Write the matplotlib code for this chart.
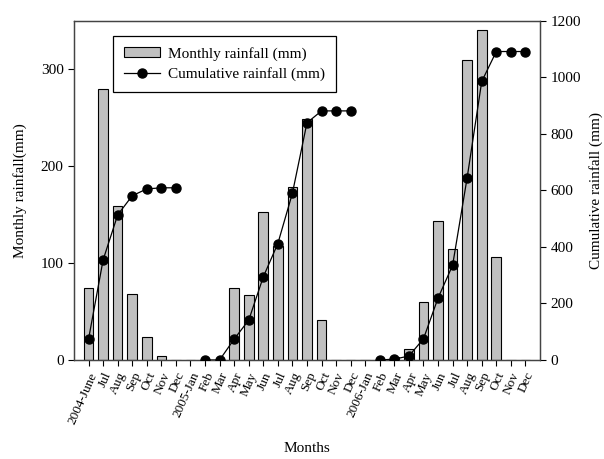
import numpy as np
import matplotlib.pyplot as plt

plt.rcParams['font.family'] = ['Liberation Serif', 'DejaVu Serif']

months = ['2004-June', 'Jul', 'Aug', 'Sep', 'Oct', 'Nov', 'Dec',
          '2005-Jan', 'Feb', 'Mar', 'Apr', 'May', 'Jun', 'Jul', 'Aug', 'Sep', 'Oct', 'Nov', 'Dec',
          '2006-Jan', 'Feb', 'Mar', 'Apr', 'May', 'Jun', 'Jul', 'Aug', 'Sep', 'Oct', 'Nov', 'Dec']

monthly = [74, 280, 159, 68, 24, 4, 0,
           0, 0, 0, 74, 67, 153, 118, 178, 249, 41, 0, 0,
           0, 0, 3, 11, 60, 143, 115, 309, 340, 106, 0, 0]

# cumulative totals per season, no point for January
cumulative = [74, 354, 513, 581, 605, 609, 609,
              np.nan, 0, 0, 74, 141, 294, 412, 590, 839, 881, 881, 881,
              np.nan, 0, 3, 14, 75, 219, 335, 645, 985, 1091, 1091, 1091]

x = np.arange(len(months))

fig = plt.figure(figsize=(6.04, 4.59), dpi=100)
ax = fig.add_axes([0.1225, 0.2157, 0.7715, 0.7392])
ax2 = ax.twinx()

bars = ax.bar(x, monthly, width=0.66, color='#c0c0c0', edgecolor='black', linewidth=0.8,
              label='Monthly rainfall (mm)', zorder=2)
line, = ax2.plot(x, cumulative, color='black', linewidth=0.9, marker='o', markersize=6.5,
                 label='Cumulative rainfall (mm)', zorder=3)

ax.set_xlim(-1, 31)
ax.set_ylim(0, 350)
ax2.set_ylim(0, 1200)
ax.set_yticks([0, 100, 200, 300])
ax2.set_yticks(range(0, 1201, 200))

ax.set_xticks(x)
ax.set_xticklabels(months, rotation=66, ha='right', rotation_mode='anchor', fontsize=9.5)

for a in (ax, ax2):
    a.tick_params(direction='out', length=4, width=0.8, colors='black')
    a.tick_params(axis='y', labelsize=11)
    for s in a.spines.values():
        s.set_color('#444444')
        s.set_linewidth(0.9)

ax.set_xlabel('Months', fontsize=11, labelpad=12)
ax.set_ylabel('Monthly rainfall(mm)', fontsize=11, labelpad=10)
ax2.set_ylabel('Cumulative rainfall (mm)', fontsize=11, labelpad=6)

ax2.set_zorder(ax.get_zorder() + 1)
ax2.patch.set_visible(False)

leg = ax2.legend([bars, line], ['Monthly rainfall (mm)', 'Cumulative rainfall (mm)'],
                 loc='upper left', bbox_to_anchor=(0.0837, 0.955), borderaxespad=0,
                 fontsize=11, fancybox=False, edgecolor='black', framealpha=1,
                 borderpad=0.7, handlelength=2.4, handletextpad=0.5, labelspacing=0.45)
leg.get_frame().set_linewidth(0.9)

fig.savefig('out.png', dpi=100)
